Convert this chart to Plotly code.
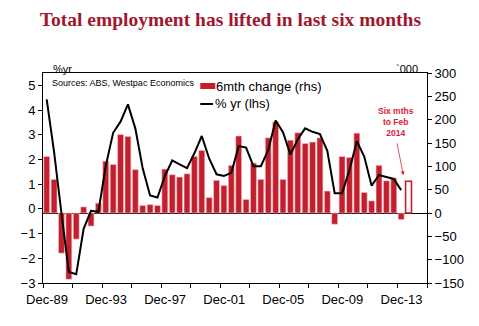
import plotly.graph_objects as go

# Semiannual categories: 0 = Dec-89, 1 = Jun-90, ... 48 = Dec-13, 49 = six months to Feb-14
cats = list(range(49))
six_mth_change = [121, 72, -86, -142, -56, 13, -28, 21, 111, 104,
                  168, 164, 93, 16, 18, 16, 94, 82, 77, 84,
                  121, 134, 33, 70, 59, 102, 165, 29, 107, 72,
                  161, 195, 72, 156, 172, 149, 152, 161, 47, -24,
                  121, 119, 171, 44, 26, 102, 69, 75, -14]
pct_yr = [4.43, 2.31, -0.18, -2.55, -2.64, -0.81, -0.08, -0.12, 1.74, 3.08,
          3.53, 4.23, 3.26, 1.64, 0.54, 0.46, 1.33, 1.96, 1.8, 1.65,
          2.25, 2.95, 2.04, 1.4, 1.33, 1.46, 2.54, 2.48, 1.73, 1.73,
          2.38, 3.58, 3.1, 2.2, 2.82, 3.26, 3.12, 3.03, 2.35, 0.63,
          0.63, 1.57, 2.74, 2.12, 0.94, 1.37, 1.29, 1.21, 0.76]
feb14_cat = [49]
feb14_val = [68]

tick_pos = [i - 0.5 for i in range(0, 53, 4)]
tick_labels = ["Dec-89", "Dec-93", "Dec-97", "Dec-01", "Dec-05", "Dec-09", "Dec-13"]
tick_txt = []
for i, p in enumerate(tick_pos):
    if i % 2 == 0 and i // 2 < len(tick_labels):
        tick_txt.append(tick_labels[i // 2])
    else:
        tick_txt.append("")

RED = "#C41F2E"
fig = go.Figure()
fig.add_trace(go.Bar(x=cats, y=six_mth_change, name="6mth change (rhs)",
                     marker=dict(color=RED, line=dict(color="#F2C4C4", width=0.6)),
                     width=0.8, yaxis="y", showlegend=False))
fig.add_trace(go.Bar(x=feb14_cat, y=feb14_val, showlegend=False,
                     marker=dict(color="white", line=dict(color=RED, width=1.6)),
                     width=0.8, yaxis="y"))
fig.add_trace(go.Scatter(x=cats, y=pct_yr, name="% yr (lhs)", mode="lines",
                         line=dict(color="black", width=2), yaxis="y2", showlegend=False))

axfont = dict(family="Liberation Sans, Arial", size=13, color="#000")
fig.update_layout(
    width=479, height=326,
    margin=dict(l=42.7, r=52.3, t=72.7, b=43.3),
    paper_bgcolor="white", plot_bgcolor="white",
    barmode="overlay",
    font=axfont,
    showlegend=False,
    title=dict(text="<b>Total employment has lifted in last six months</b>",
               font=dict(family="Liberation Serif, Times New Roman", size=19.5, color="#A0182E"),
               x=0.481, xanchor="center", xref="container",
               y=0.94, yanchor="middle", yref="container"),
    xaxis=dict(range=[-0.5, 51.5], tickvals=tick_pos, ticktext=tick_txt,
               ticks="outside", ticklen=4, tickcolor="black",
               ticklabelshift=4,
               showline=True, linecolor="black", linewidth=1, mirror=True,
               showgrid=False, zeroline=False, tickfont=axfont),
    yaxis=dict(side="right", range=[-150, 300], dtick=50,
               ticks="outside", ticklen=4, tickcolor="black",
               showline=True, linecolor="black", linewidth=1,
               showgrid=False, zeroline=True, zerolinecolor="black", zerolinewidth=1,
               tickfont=axfont),
    yaxis2=dict(side="left", overlaying="y", range=[-3, 5.5], dtick=1,
                ticks="outside", ticklen=4, tickcolor="black",
                showline=True, linecolor="black", linewidth=1,
                showgrid=False, zeroline=False, tickfont=axfont),
)

# Manual legend (swatches + labels)
fig.add_shape(type="rect", xref="paper", yref="paper", x0=0.4096, x1=0.4487,
              y0=0.9238, y1=0.9524, fillcolor=RED, line=dict(width=0))
fig.add_shape(type="line", xref="paper", yref="paper", x0=0.4096, x1=0.4427,
              y0=0.8524, y1=0.8524, line=dict(color="black", width=2))
fig.add_annotation(text="6mth change (rhs)", xref="paper", yref="paper",
                   x=0.4487, y=0.938, xanchor="left", yanchor="middle", showarrow=False,
                   xshift=-1, font=dict(size=13, color="#000"))
fig.add_annotation(text="% yr (lhs)", xref="paper", yref="paper",
                   x=0.446, y=0.8524, xanchor="left", yanchor="middle", showarrow=False,
                   xshift=-1, font=dict(size=13, color="#000"))

fig.add_annotation(text="Sources: ABS, Westpac Economics", xref="paper", yref="paper",
                   x=0.017, y=0.985, xanchor="left", yanchor="top", showarrow=False,
                   font=dict(size=9, color="#000"))
fig.add_annotation(text="%yr", xref="paper", yref="paper", x=0.02, y=1.0,
                   xanchor="left", yanchor="bottom", showarrow=False, yshift=-4,
                   font=dict(size=11, color="#000"))
fig.add_annotation(text="`000", xref="paper", yref="paper", x=0.982, y=1.0,
                   xanchor="right", yanchor="bottom", showarrow=False, yshift=-4,
                   font=dict(size=11, color="#000"))
fig.add_annotation(text="<b>Six mths<br>to Feb<br>2014</b>", xref="paper", yref="paper",
                   x=0.92, y=0.765, xanchor="center", yanchor="middle", showarrow=False,
                   font=dict(size=8.5, color="#D8223A"))
fig.add_annotation(text="", x=48.3, y=81, xref="x", yref="y", showarrow=True,
                   ax=-6.6, ay=-33.3, arrowhead=2, arrowsize=1, arrowwidth=0.8,
                   arrowcolor="#D8223A")

fig.write_html("out.html")
